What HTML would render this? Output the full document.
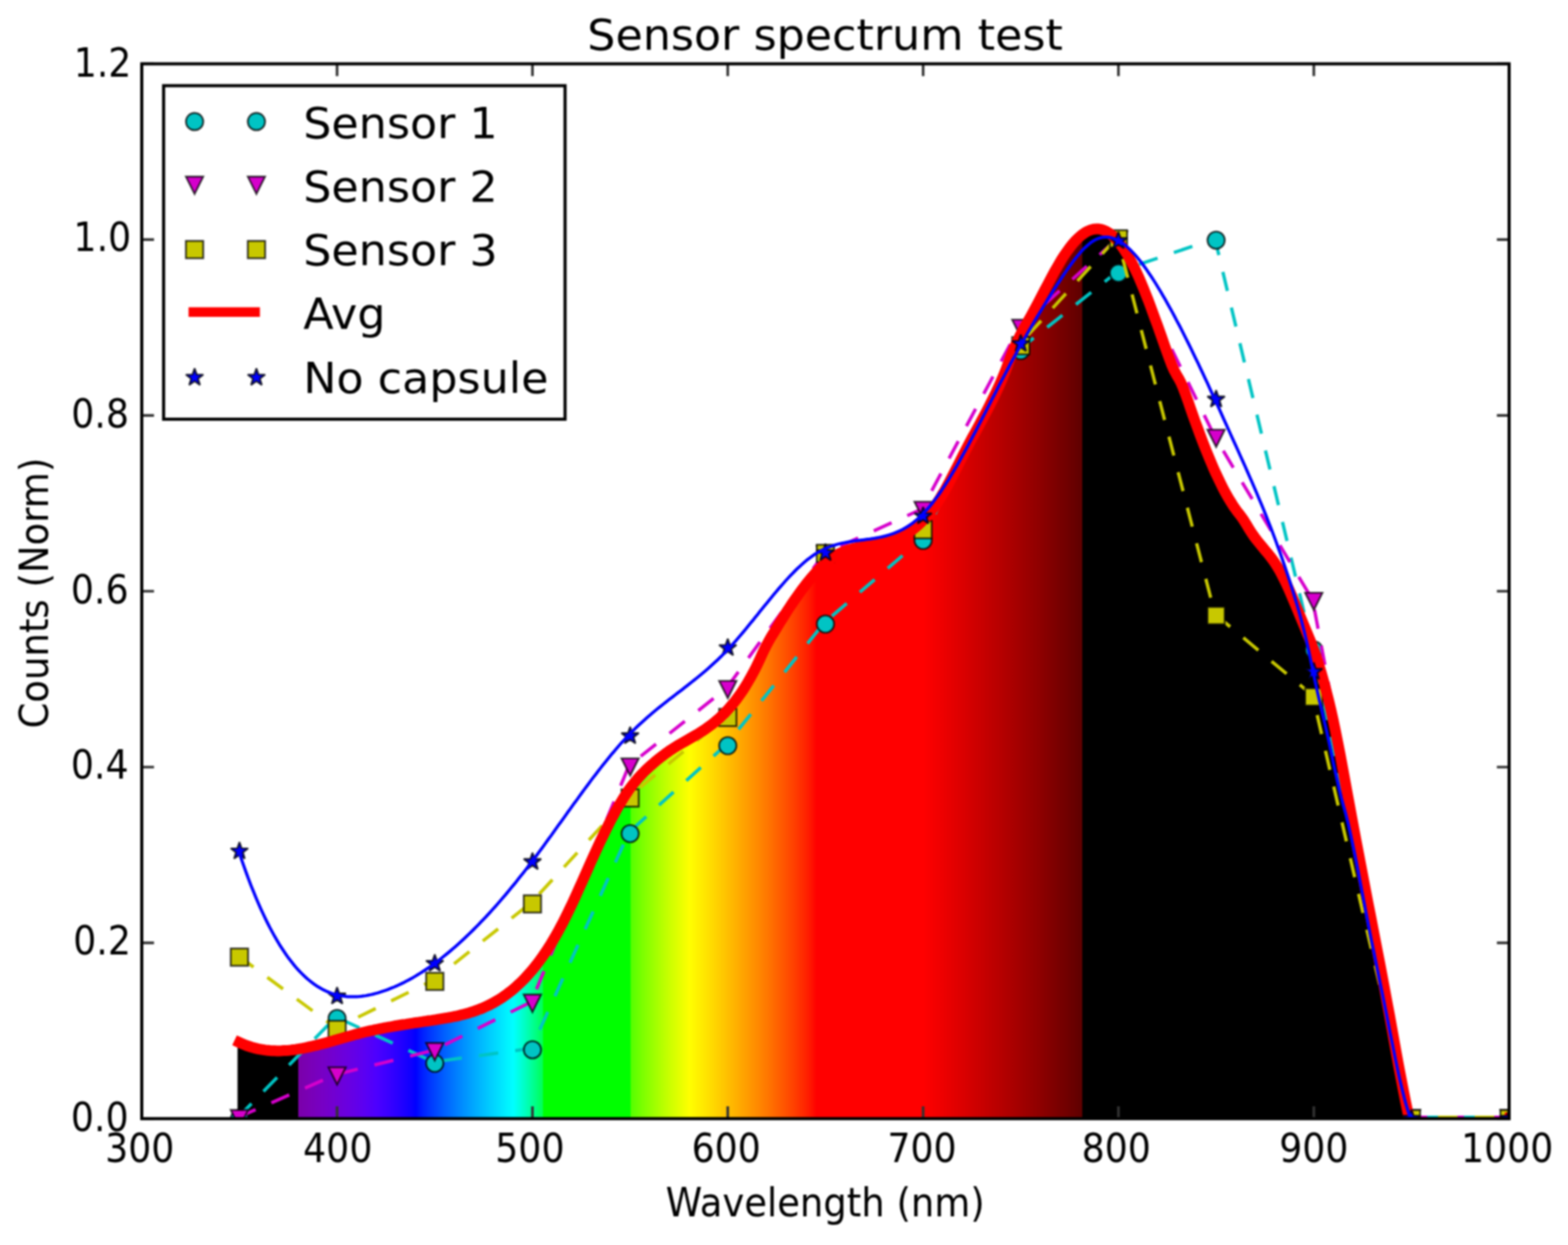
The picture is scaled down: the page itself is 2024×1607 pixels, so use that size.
<!DOCTYPE html>
<html lang="en"><head><meta charset="utf-8"><title>Sensor spectrum test</title>
<style>html,body{margin:0;padding:0;background:#fff}body{width:2024px;height:1607px;overflow:hidden}svg{display:block;filter:blur(0.9px)}text{font-family:"DejaVu Sans","Liberation Sans",sans-serif;fill:#000}</style>
</head><body>
<svg width="2024" height="1607" viewBox="0 0 2024 1607">
<defs>
<clipPath id="ax"><rect x="183.0" y="82.4" width="1765.0" height="1361.5"/></clipPath>
<linearGradient id="spec" gradientUnits="userSpaceOnUse" x1="306.55" y1="0" x2="1826.97" y2="0">
<stop offset="0.00000" stop-color="#000000"/>
<stop offset="0.05189" stop-color="#000000"/>
<stop offset="0.05191" stop-color="#7b00a9"/>
<stop offset="0.05522" stop-color="#7a00ae"/>
<stop offset="0.05854" stop-color="#7a00b2"/>
<stop offset="0.06186" stop-color="#7a00b7"/>
<stop offset="0.06517" stop-color="#7900bb"/>
<stop offset="0.06849" stop-color="#7800c0"/>
<stop offset="0.07181" stop-color="#7700c4"/>
<stop offset="0.07512" stop-color="#7500c8"/>
<stop offset="0.07844" stop-color="#7300cd"/>
<stop offset="0.08176" stop-color="#7200d1"/>
<stop offset="0.08507" stop-color="#6f00d5"/>
<stop offset="0.08839" stop-color="#6d00da"/>
<stop offset="0.09171" stop-color="#6b00de"/>
<stop offset="0.09502" stop-color="#6800e2"/>
<stop offset="0.09834" stop-color="#6500e6"/>
<stop offset="0.10166" stop-color="#6100ea"/>
<stop offset="0.10498" stop-color="#5e00ef"/>
<stop offset="0.10829" stop-color="#5a00f3"/>
<stop offset="0.11161" stop-color="#5600f7"/>
<stop offset="0.11493" stop-color="#5100fb"/>
<stop offset="0.11824" stop-color="#4d00ff"/>
<stop offset="0.12156" stop-color="#4600ff"/>
<stop offset="0.12488" stop-color="#4000ff"/>
<stop offset="0.12819" stop-color="#3a00ff"/>
<stop offset="0.13151" stop-color="#3300ff"/>
<stop offset="0.13483" stop-color="#2c00ff"/>
<stop offset="0.13814" stop-color="#2500ff"/>
<stop offset="0.14146" stop-color="#1d00ff"/>
<stop offset="0.14478" stop-color="#1500ff"/>
<stop offset="0.14809" stop-color="#0c00ff"/>
<stop offset="0.15141" stop-color="#0000ff"/>
<stop offset="0.15473" stop-color="#0013ff"/>
<stop offset="0.15804" stop-color="#0022ff"/>
<stop offset="0.16136" stop-color="#002fff"/>
<stop offset="0.16468" stop-color="#003bff"/>
<stop offset="0.16799" stop-color="#0046ff"/>
<stop offset="0.17131" stop-color="#0051ff"/>
<stop offset="0.17463" stop-color="#005cff"/>
<stop offset="0.17794" stop-color="#0066ff"/>
<stop offset="0.18126" stop-color="#0071ff"/>
<stop offset="0.18458" stop-color="#007bff"/>
<stop offset="0.18789" stop-color="#0084ff"/>
<stop offset="0.19121" stop-color="#008eff"/>
<stop offset="0.19453" stop-color="#0097ff"/>
<stop offset="0.19784" stop-color="#00a0ff"/>
<stop offset="0.20116" stop-color="#00a9ff"/>
<stop offset="0.20448" stop-color="#00b2ff"/>
<stop offset="0.20779" stop-color="#00bbff"/>
<stop offset="0.21111" stop-color="#00c4ff"/>
<stop offset="0.21443" stop-color="#00cdff"/>
<stop offset="0.21774" stop-color="#00d5ff"/>
<stop offset="0.22106" stop-color="#00deff"/>
<stop offset="0.22438" stop-color="#00e6ff"/>
<stop offset="0.22769" stop-color="#00efff"/>
<stop offset="0.23101" stop-color="#00f7ff"/>
<stop offset="0.23433" stop-color="#00ffff"/>
<stop offset="0.23765" stop-color="#00ffea"/>
<stop offset="0.24096" stop-color="#00ffd5"/>
<stop offset="0.24428" stop-color="#00ffc0"/>
<stop offset="0.24760" stop-color="#00ffa9"/>
<stop offset="0.25091" stop-color="#00ff92"/>
<stop offset="0.25423" stop-color="#00ff7b"/>
<stop offset="0.25755" stop-color="#00ff61"/>
<stop offset="0.25919" stop-color="#00ff54"/>
<stop offset="0.25920" stop-color="#00ff00"/>
<stop offset="0.26086" stop-color="#00ff00"/>
<stop offset="0.26418" stop-color="#00ff00"/>
<stop offset="0.26750" stop-color="#00ff00"/>
<stop offset="0.27081" stop-color="#00ff00"/>
<stop offset="0.27413" stop-color="#00ff00"/>
<stop offset="0.27745" stop-color="#00ff00"/>
<stop offset="0.28076" stop-color="#00ff00"/>
<stop offset="0.28408" stop-color="#00ff00"/>
<stop offset="0.28740" stop-color="#00ff00"/>
<stop offset="0.29071" stop-color="#00ff00"/>
<stop offset="0.29403" stop-color="#00ff00"/>
<stop offset="0.29735" stop-color="#00ff00"/>
<stop offset="0.30066" stop-color="#00ff00"/>
<stop offset="0.30398" stop-color="#00ff00"/>
<stop offset="0.30730" stop-color="#00ff00"/>
<stop offset="0.31061" stop-color="#00ff00"/>
<stop offset="0.31393" stop-color="#00ff00"/>
<stop offset="0.31725" stop-color="#00ff00"/>
<stop offset="0.32056" stop-color="#00ff00"/>
<stop offset="0.32388" stop-color="#00ff00"/>
<stop offset="0.32720" stop-color="#00ff00"/>
<stop offset="0.33051" stop-color="#00ff00"/>
<stop offset="0.33381" stop-color="#00ff00"/>
<stop offset="0.33383" stop-color="#54ff00"/>
<stop offset="0.33715" stop-color="#61ff00"/>
<stop offset="0.34046" stop-color="#6eff00"/>
<stop offset="0.34378" stop-color="#7bff00"/>
<stop offset="0.34710" stop-color="#87ff00"/>
<stop offset="0.35041" stop-color="#92ff00"/>
<stop offset="0.35373" stop-color="#9eff00"/>
<stop offset="0.35705" stop-color="#a9ff00"/>
<stop offset="0.36036" stop-color="#b5ff00"/>
<stop offset="0.36368" stop-color="#c0ff00"/>
<stop offset="0.36700" stop-color="#cbff00"/>
<stop offset="0.37032" stop-color="#d5ff00"/>
<stop offset="0.37363" stop-color="#e0ff00"/>
<stop offset="0.37695" stop-color="#eaff00"/>
<stop offset="0.38027" stop-color="#f5ff00"/>
<stop offset="0.38358" stop-color="#ffff00"/>
<stop offset="0.38690" stop-color="#fff900"/>
<stop offset="0.39022" stop-color="#fff200"/>
<stop offset="0.39353" stop-color="#ffec00"/>
<stop offset="0.39685" stop-color="#ffe600"/>
<stop offset="0.40017" stop-color="#ffdf00"/>
<stop offset="0.40348" stop-color="#ffd900"/>
<stop offset="0.40680" stop-color="#ffd200"/>
<stop offset="0.41012" stop-color="#ffcb00"/>
<stop offset="0.41343" stop-color="#ffc500"/>
<stop offset="0.41675" stop-color="#ffbe00"/>
<stop offset="0.42007" stop-color="#ffb700"/>
<stop offset="0.42338" stop-color="#ffb000"/>
<stop offset="0.42670" stop-color="#ffa900"/>
<stop offset="0.43002" stop-color="#ffa200"/>
<stop offset="0.43333" stop-color="#ff9b00"/>
<stop offset="0.43665" stop-color="#ff9400"/>
<stop offset="0.43997" stop-color="#ff8d00"/>
<stop offset="0.44328" stop-color="#ff8600"/>
<stop offset="0.44660" stop-color="#ff7e00"/>
<stop offset="0.44992" stop-color="#ff7700"/>
<stop offset="0.45323" stop-color="#ff6f00"/>
<stop offset="0.45655" stop-color="#ff6700"/>
<stop offset="0.45987" stop-color="#ff5f00"/>
<stop offset="0.46318" stop-color="#ff5700"/>
<stop offset="0.46650" stop-color="#ff4f00"/>
<stop offset="0.46982" stop-color="#ff4600"/>
<stop offset="0.47313" stop-color="#ff3e00"/>
<stop offset="0.47645" stop-color="#ff3400"/>
<stop offset="0.47977" stop-color="#ff2b00"/>
<stop offset="0.48308" stop-color="#ff2100"/>
<stop offset="0.48640" stop-color="#ff1600"/>
<stop offset="0.48972" stop-color="#ff0900"/>
<stop offset="0.49138" stop-color="#ff0000"/>
<stop offset="0.49303" stop-color="#ff0000"/>
<stop offset="0.49635" stop-color="#ff0000"/>
<stop offset="0.49967" stop-color="#ff0000"/>
<stop offset="0.50299" stop-color="#ff0000"/>
<stop offset="0.50630" stop-color="#ff0000"/>
<stop offset="0.50962" stop-color="#ff0000"/>
<stop offset="0.51294" stop-color="#ff0000"/>
<stop offset="0.51625" stop-color="#ff0000"/>
<stop offset="0.51957" stop-color="#ff0000"/>
<stop offset="0.52289" stop-color="#ff0000"/>
<stop offset="0.52620" stop-color="#ff0000"/>
<stop offset="0.52952" stop-color="#ff0000"/>
<stop offset="0.53284" stop-color="#ff0000"/>
<stop offset="0.53615" stop-color="#ff0000"/>
<stop offset="0.53947" stop-color="#ff0000"/>
<stop offset="0.54279" stop-color="#ff0000"/>
<stop offset="0.54610" stop-color="#ff0000"/>
<stop offset="0.54942" stop-color="#ff0000"/>
<stop offset="0.55274" stop-color="#ff0000"/>
<stop offset="0.55605" stop-color="#ff0000"/>
<stop offset="0.55937" stop-color="#ff0000"/>
<stop offset="0.56269" stop-color="#ff0000"/>
<stop offset="0.56600" stop-color="#ff0000"/>
<stop offset="0.56932" stop-color="#ff0000"/>
<stop offset="0.57264" stop-color="#ff0000"/>
<stop offset="0.57595" stop-color="#ff0000"/>
<stop offset="0.57927" stop-color="#ff0000"/>
<stop offset="0.58259" stop-color="#ff0000"/>
<stop offset="0.58590" stop-color="#fb0000"/>
<stop offset="0.58922" stop-color="#f80000"/>
<stop offset="0.59254" stop-color="#f40000"/>
<stop offset="0.59585" stop-color="#f10000"/>
<stop offset="0.59917" stop-color="#ed0000"/>
<stop offset="0.60249" stop-color="#e90000"/>
<stop offset="0.60580" stop-color="#e60000"/>
<stop offset="0.60912" stop-color="#e20000"/>
<stop offset="0.61244" stop-color="#de0000"/>
<stop offset="0.61575" stop-color="#db0000"/>
<stop offset="0.61907" stop-color="#d70000"/>
<stop offset="0.62239" stop-color="#d30000"/>
<stop offset="0.62570" stop-color="#cf0000"/>
<stop offset="0.62902" stop-color="#cc0000"/>
<stop offset="0.63234" stop-color="#c80000"/>
<stop offset="0.63566" stop-color="#c40000"/>
<stop offset="0.63897" stop-color="#c00000"/>
<stop offset="0.64229" stop-color="#bc0000"/>
<stop offset="0.64561" stop-color="#b90000"/>
<stop offset="0.64892" stop-color="#b50000"/>
<stop offset="0.65224" stop-color="#b10000"/>
<stop offset="0.65556" stop-color="#ad0000"/>
<stop offset="0.65887" stop-color="#a90000"/>
<stop offset="0.66219" stop-color="#a50000"/>
<stop offset="0.66551" stop-color="#a10000"/>
<stop offset="0.66882" stop-color="#9d0000"/>
<stop offset="0.67214" stop-color="#990000"/>
<stop offset="0.67546" stop-color="#950000"/>
<stop offset="0.67877" stop-color="#910000"/>
<stop offset="0.68209" stop-color="#8d0000"/>
<stop offset="0.68541" stop-color="#880000"/>
<stop offset="0.68872" stop-color="#840000"/>
<stop offset="0.69204" stop-color="#800000"/>
<stop offset="0.69536" stop-color="#7c0000"/>
<stop offset="0.69867" stop-color="#770000"/>
<stop offset="0.70199" stop-color="#730000"/>
<stop offset="0.70531" stop-color="#6f0000"/>
<stop offset="0.70862" stop-color="#6a0000"/>
<stop offset="0.71194" stop-color="#660000"/>
<stop offset="0.71526" stop-color="#610000"/>
<stop offset="0.71690" stop-color="#5f0000"/>
<stop offset="0.71692" stop-color="#000000"/>
<stop offset="1.00000" stop-color="#000000"/>
</linearGradient>
</defs>
<rect x="0" y="0" width="2024" height="1607" fill="#fff"/>
<g clip-path="url(#ax)">
<path d="M306.6,1448.9 L306.6,1345.7 L309.1,1345.7 L312.1,1347.1 L315.1,1348.3 L318.1,1349.5 L321.2,1350.5 L324.2,1351.5 L327.2,1352.4 L330.2,1353.1 L333.3,1353.8 L336.3,1354.4 L339.3,1354.9 L342.3,1355.4 L345.3,1355.7 L348.4,1356.0 L351.4,1356.2 L354.4,1356.3 L357.4,1356.4 L360.5,1356.4 L363.5,1356.3 L366.5,1356.1 L369.5,1355.9 L372.6,1355.7 L375.6,1355.4 L378.6,1355.0 L381.6,1354.6 L384.7,1354.1 L387.7,1353.6 L390.7,1353.1 L393.7,1352.5 L396.7,1351.9 L399.8,1351.2 L402.8,1350.5 L405.8,1349.8 L408.8,1349.1 L411.9,1348.3 L414.9,1347.5 L417.9,1346.7 L420.9,1345.9 L424.0,1345.1 L427.0,1344.2 L430.0,1343.4 L433.0,1342.5 L436.0,1341.6 L439.1,1340.8 L442.1,1339.9 L445.1,1339.0 L448.1,1338.2 L451.2,1337.3 L454.2,1336.5 L457.2,1335.6 L460.2,1334.8 L463.3,1334.1 L466.3,1333.3 L469.3,1332.5 L472.3,1331.8 L475.3,1331.1 L478.4,1330.4 L481.4,1329.8 L484.4,1329.1 L487.4,1328.5 L490.5,1327.9 L493.5,1327.3 L496.5,1326.7 L499.5,1326.2 L502.6,1325.6 L505.6,1325.1 L508.6,1324.5 L511.6,1324.0 L514.6,1323.5 L517.7,1323.0 L520.7,1322.5 L523.7,1322.1 L526.7,1321.6 L529.8,1321.1 L532.8,1320.7 L535.8,1320.2 L538.8,1319.8 L541.9,1319.3 L544.9,1318.9 L547.9,1318.4 L550.9,1318.0 L553.9,1317.5 L557.0,1317.1 L560.0,1316.6 L563.0,1316.2 L566.0,1315.7 L569.1,1315.2 L572.1,1314.7 L575.1,1314.2 L578.1,1313.7 L581.2,1313.1 L584.2,1312.5 L587.2,1311.9 L590.2,1311.3 L593.3,1310.6 L596.3,1309.8 L599.3,1309.1 L602.3,1308.2 L605.3,1307.4 L608.4,1306.4 L611.4,1305.5 L614.4,1304.4 L617.4,1303.3 L620.5,1302.1 L623.5,1300.9 L626.5,1299.5 L629.5,1298.1 L632.6,1296.6 L635.6,1295.1 L638.6,1293.4 L641.6,1291.7 L644.6,1289.8 L647.7,1287.9 L650.7,1285.8 L653.7,1283.7 L656.7,1281.4 L659.8,1279.1 L662.8,1276.6 L665.8,1274.0 L668.8,1271.2 L671.9,1268.4 L674.9,1265.4 L677.9,1262.3 L680.9,1259.0 L683.9,1255.6 L687.0,1252.1 L690.0,1248.4 L693.0,1244.6 L696.0,1240.6 L699.1,1236.4 L702.1,1232.1 L705.1,1227.7 L708.1,1223.0 L711.2,1218.2 L714.2,1213.2 L717.2,1208.0 L720.2,1202.7 L723.2,1197.1 L726.3,1191.4 L729.3,1185.4 L732.3,1179.3 L735.3,1173.1 L738.4,1166.7 L741.4,1160.2 L744.4,1153.6 L747.4,1146.9 L750.5,1140.1 L753.5,1133.4 L756.5,1126.6 L759.5,1119.8 L762.5,1113.0 L765.6,1106.3 L768.6,1099.7 L771.6,1093.1 L774.6,1086.6 L777.7,1080.3 L780.7,1074.1 L783.7,1068.0 L786.7,1062.0 L789.8,1056.2 L792.8,1050.6 L795.8,1045.2 L798.8,1039.9 L801.9,1034.8 L804.9,1029.9 L807.9,1025.2 L810.9,1020.8 L813.9,1016.5 L817.0,1012.5 L820.0,1008.8 L823.0,1005.2 L826.0,1001.8 L829.1,998.6 L832.1,995.5 L835.1,992.6 L838.1,989.8 L841.2,987.1 L844.2,984.5 L847.2,981.9 L850.2,979.5 L853.2,977.1 L856.3,974.8 L859.3,972.5 L862.3,970.4 L865.3,968.3 L868.4,966.3 L871.4,964.4 L874.4,962.6 L877.4,960.8 L880.5,959.0 L883.5,957.3 L886.5,955.6 L889.5,953.9 L892.5,952.2 L895.6,950.4 L898.6,948.7 L901.6,946.8 L904.6,944.9 L907.7,943.0 L910.7,940.9 L913.7,938.8 L916.7,936.6 L919.8,934.3 L922.8,931.9 L925.8,929.3 L928.8,926.7 L931.8,923.8 L934.9,920.9 L937.9,917.7 L940.9,914.4 L943.9,911.0 L947.0,907.3 L950.0,903.5 L953.0,899.4 L956.0,895.2 L959.1,890.7 L962.1,886.0 L965.1,881.0 L968.1,875.8 L971.1,870.3 L974.2,864.6 L977.2,858.6 L980.2,852.3 L983.2,845.6 L986.3,839.0 L989.3,833.1 L992.3,827.5 L995.3,822.3 L998.4,817.3 L1001.4,812.3 L1004.4,807.3 L1007.4,802.4 L1010.5,797.6 L1013.5,792.8 L1016.5,788.1 L1019.5,783.5 L1022.5,779.0 L1025.6,774.5 L1028.6,770.2 L1031.6,765.9 L1034.6,761.7 L1037.7,757.7 L1040.7,753.8 L1043.7,750.0 L1046.7,746.3 L1049.8,742.8 L1052.8,739.4 L1055.8,736.2 L1058.8,733.1 L1061.8,730.2 L1064.9,727.4 L1067.9,724.9 L1070.9,722.5 L1073.9,720.2 L1077.0,718.2 L1080.0,716.4 L1083.0,714.7 L1086.0,713.3 L1089.1,712.0 L1092.1,710.8 L1095.1,709.8 L1098.1,708.9 L1101.1,708.1 L1104.2,707.3 L1107.2,706.7 L1110.2,706.1 L1113.2,705.5 L1116.3,705.0 L1119.3,704.4 L1122.3,703.9 L1125.3,703.4 L1128.4,702.9 L1131.4,702.3 L1134.4,701.7 L1137.4,701.1 L1140.4,700.4 L1143.5,699.7 L1146.5,698.9 L1149.5,697.9 L1152.5,696.9 L1155.6,695.8 L1158.6,694.6 L1161.6,693.3 L1164.6,691.8 L1167.7,690.2 L1170.7,688.5 L1173.7,686.6 L1176.7,684.5 L1179.7,682.3 L1182.8,679.8 L1185.8,677.2 L1188.8,674.4 L1191.8,671.4 L1194.9,668.2 L1197.9,664.8 L1200.9,661.1 L1203.9,657.2 L1207.0,653.0 L1210.0,648.6 L1213.0,643.9 L1216.0,639.0 L1219.1,633.8 L1222.1,628.4 L1225.1,622.8 L1228.1,617.1 L1231.1,611.2 L1234.2,605.3 L1237.2,599.4 L1240.2,593.4 L1243.2,587.4 L1246.3,581.5 L1249.3,575.7 L1252.3,570.0 L1255.3,564.4 L1258.4,558.8 L1261.4,553.3 L1264.4,547.7 L1267.4,542.1 L1270.4,536.5 L1273.5,530.8 L1276.5,525.0 L1279.5,519.0 L1282.5,513.0 L1285.6,506.7 L1288.6,500.3 L1291.6,493.6 L1294.6,486.5 L1297.7,479.0 L1300.7,471.0 L1303.7,462.9 L1306.7,455.1 L1309.7,447.9 L1312.8,441.2 L1315.8,435.0 L1318.8,429.2 L1321.8,423.6 L1324.9,418.2 L1327.9,412.9 L1330.9,407.6 L1333.9,402.1 L1337.0,396.5 L1340.0,390.8 L1343.0,385.1 L1346.0,379.3 L1349.0,373.5 L1352.1,367.7 L1355.1,362.0 L1358.1,356.4 L1361.1,350.8 L1364.2,345.4 L1367.2,340.2 L1370.2,335.2 L1373.2,330.4 L1376.3,325.9 L1379.3,321.7 L1382.3,317.7 L1385.3,314.1 L1388.3,310.7 L1391.4,307.6 L1394.4,304.9 L1397.4,302.5 L1400.4,300.4 L1403.5,298.7 L1406.5,297.4 L1409.5,296.3 L1412.5,295.7 L1415.6,295.5 L1418.6,295.6 L1421.6,296.1 L1424.6,297.1 L1427.7,298.4 L1430.7,300.2 L1433.7,302.3 L1436.7,304.9 L1439.7,307.8 L1442.8,311.1 L1445.8,314.8 L1448.8,318.9 L1451.8,323.4 L1454.9,328.3 L1457.9,333.5 L1460.9,339.0 L1463.9,345.0 L1467.0,351.3 L1470.0,357.9 L1473.0,364.9 L1476.0,372.1 L1479.0,379.7 L1482.1,387.4 L1485.1,395.4 L1488.1,403.6 L1491.1,411.8 L1494.2,420.2 L1497.2,428.7 L1500.2,437.2 L1503.2,445.8 L1506.3,454.3 L1509.3,462.7 L1512.3,470.6 L1515.3,477.4 L1518.3,483.1 L1521.4,488.3 L1524.4,494.0 L1527.4,501.0 L1530.4,509.1 L1533.5,517.7 L1536.5,526.5 L1539.5,535.1 L1542.5,543.5 L1545.6,551.8 L1548.6,560.0 L1551.6,567.9 L1554.6,575.7 L1557.6,583.3 L1560.7,590.7 L1563.7,597.9 L1566.7,604.9 L1569.7,611.6 L1572.8,618.1 L1575.8,624.3 L1578.8,630.3 L1581.8,636.0 L1584.9,641.4 L1587.9,646.5 L1590.9,651.3 L1593.9,655.8 L1596.9,660.0 L1600.0,663.9 L1603.0,667.9 L1606.0,672.3 L1609.0,677.2 L1612.1,682.3 L1615.1,687.1 L1618.1,691.5 L1621.1,695.6 L1624.2,699.5 L1627.2,703.2 L1630.2,706.8 L1633.2,710.4 L1636.3,714.1 L1639.3,717.8 L1642.3,721.8 L1645.3,726.1 L1648.3,730.8 L1651.4,735.8 L1654.4,741.4 L1657.4,747.3 L1660.4,753.6 L1663.5,760.2 L1666.5,767.1 L1669.5,774.2 L1672.5,781.4 L1675.6,788.7 L1678.6,796.1 L1681.6,803.4 L1684.6,810.7 L1687.6,818.0 L1690.7,825.4 L1693.7,833.1 L1696.7,841.2 L1699.7,850.0 L1702.8,859.5 L1705.8,869.5 L1708.8,880.2 L1711.8,891.5 L1714.9,903.5 L1717.9,916.2 L1720.9,929.6 L1723.9,943.9 L1726.9,958.9 L1730.0,974.6 L1733.0,990.7 L1736.0,1007.1 L1739.0,1023.6 L1742.1,1040.1 L1745.1,1056.4 L1748.1,1072.6 L1751.1,1088.6 L1754.2,1104.6 L1757.2,1120.4 L1760.2,1136.1 L1763.2,1151.8 L1766.2,1167.4 L1769.3,1182.9 L1772.3,1198.5 L1775.3,1214.0 L1778.3,1229.6 L1781.4,1245.3 L1784.4,1261.2 L1787.4,1277.2 L1790.4,1293.4 L1793.5,1309.9 L1796.5,1326.5 L1799.5,1343.2 L1802.5,1359.9 L1805.5,1376.3 L1808.6,1392.4 L1811.6,1408.0 L1814.6,1423.1 L1817.6,1437.4 L1827.0,1484.5 L1827.0,1448.9 Z" fill="url(#spec)"/>
<g fill="none" stroke="#00c4c4" stroke-width="4.3" stroke-dasharray="25.2,22.2">
<path d="M307.6,1442.1 L433.6,1312.7" stroke-dashoffset="0.8"/>
<path d="M433.6,1312.7 L559.7,1370.7" stroke-dashoffset="39.2"/>
<path d="M559.7,1370.7 L685.8,1353.2" stroke-dashoffset="35.8"/>
<path d="M685.8,1353.2 L811.9,1074.2" stroke-dashoffset="20.9"/>
<path d="M811.9,1074.2 L937.9,960.7" stroke-dashoffset="42.6"/>
<path d="M937.9,960.7 L1064.0,803.7" stroke-dashoffset="22.7"/>
<path d="M1064.0,803.7 L1190.1,695.7" stroke-dashoffset="34.4"/>
<path d="M1190.1,695.7 L1316.1,450.7" stroke-dashoffset="10.8"/>
<path d="M1316.1,450.7 L1442.2,350.7" stroke-dashoffset="2.0"/>
<path d="M1442.2,350.7 L1568.3,308.2" stroke-dashoffset="17.7"/>
<path d="M1568.3,308.2 L1694.4,837.0" stroke-dashoffset="3.5"/>
<path d="M1694.4,837.0 L1820.4,1442.1" stroke-dashoffset="25.7"/>
<path d="M1820.4,1442.1 L1946.5,1442.1" stroke-dashoffset="27.6"/>
</g>
<circle cx="309.1" cy="1443.9" r="11.15" fill="#00c4c4" stroke="rgba(0,0,0,0.75)" stroke-width="2.4"/>
<circle cx="435.1" cy="1314.5" r="11.15" fill="#00c4c4" stroke="rgba(0,0,0,0.75)" stroke-width="2.4"/>
<circle cx="561.2" cy="1372.5" r="11.15" fill="#00c4c4" stroke="rgba(0,0,0,0.75)" stroke-width="2.4"/>
<circle cx="687.3" cy="1355.0" r="11.15" fill="#00c4c4" stroke="rgba(0,0,0,0.75)" stroke-width="2.4"/>
<circle cx="813.4" cy="1076.0" r="11.15" fill="#00c4c4" stroke="rgba(0,0,0,0.75)" stroke-width="2.4"/>
<circle cx="939.4" cy="962.5" r="11.15" fill="#00c4c4" stroke="rgba(0,0,0,0.75)" stroke-width="2.4"/>
<circle cx="1065.5" cy="805.5" r="11.15" fill="#00c4c4" stroke="rgba(0,0,0,0.75)" stroke-width="2.4"/>
<circle cx="1191.6" cy="697.5" r="11.15" fill="#00c4c4" stroke="rgba(0,0,0,0.75)" stroke-width="2.4"/>
<circle cx="1317.6" cy="452.5" r="11.15" fill="#00c4c4" stroke="rgba(0,0,0,0.75)" stroke-width="2.4"/>
<circle cx="1443.7" cy="352.5" r="11.15" fill="#00c4c4" stroke="rgba(0,0,0,0.75)" stroke-width="2.4"/>
<circle cx="1569.8" cy="310.0" r="11.15" fill="#00c4c4" stroke="rgba(0,0,0,0.75)" stroke-width="2.4"/>
<circle cx="1695.9" cy="838.8" r="11.15" fill="#00c4c4" stroke="rgba(0,0,0,0.75)" stroke-width="2.4"/>
<circle cx="1821.9" cy="1443.9" r="11.15" fill="#00c4c4" stroke="rgba(0,0,0,0.75)" stroke-width="2.4"/>
<circle cx="1948.0" cy="1443.9" r="11.15" fill="#00c4c4" stroke="rgba(0,0,0,0.75)" stroke-width="2.4"/>
<g fill="none" stroke="#d600cc" stroke-width="4.3" stroke-dasharray="25.2,22.2">
<path d="M307.6,1442.1 L433.6,1387.0" stroke-dashoffset="0.8"/>
<path d="M433.6,1387.0 L559.7,1355.7" stroke-dashoffset="43.6"/>
<path d="M559.7,1355.7 L685.8,1293.2" stroke-dashoffset="31.2"/>
<path d="M685.8,1293.2 L811.9,988.2" stroke-dashoffset="29.8"/>
<path d="M811.9,988.2 L937.9,888.2" stroke-dashoffset="28.0"/>
<path d="M937.9,888.2 L1064.0,714.2" stroke-dashoffset="46.7"/>
<path d="M1064.0,714.2 L1190.1,657.0" stroke-dashoffset="24.6"/>
<path d="M1190.1,657.0 L1316.1,421.9" stroke-dashoffset="20.8"/>
<path d="M1316.1,421.9 L1442.2,308.2" stroke-dashoffset="3.1"/>
<path d="M1442.2,308.2 L1568.3,564.0" stroke-dashoffset="30.7"/>
<path d="M1568.3,564.0 L1694.4,774.5" stroke-dashoffset="26.5"/>
<path d="M1694.4,774.5 L1820.4,1442.1" stroke-dashoffset="34.8"/>
<path d="M1820.4,1442.1 L1946.5,1442.1" stroke-dashoffset="3.3"/>
</g>
<path d="M309.1,1455.1 L320.2,1432.8 L297.9,1432.8 Z" fill="#d600cc" stroke="rgba(0,0,0,0.75)" stroke-width="2.4" stroke-linejoin="miter"/>
<path d="M435.1,1399.9 L446.3,1377.6 L424.0,1377.6 Z" fill="#d600cc" stroke="rgba(0,0,0,0.75)" stroke-width="2.4" stroke-linejoin="miter"/>
<path d="M561.2,1368.7 L572.4,1346.3 L550.1,1346.3 Z" fill="#d600cc" stroke="rgba(0,0,0,0.75)" stroke-width="2.4" stroke-linejoin="miter"/>
<path d="M687.3,1306.2 L698.4,1283.8 L676.1,1283.8 Z" fill="#d600cc" stroke="rgba(0,0,0,0.75)" stroke-width="2.4" stroke-linejoin="miter"/>
<path d="M813.4,1001.1 L824.5,978.9 L802.2,978.9 Z" fill="#d600cc" stroke="rgba(0,0,0,0.75)" stroke-width="2.4" stroke-linejoin="miter"/>
<path d="M939.4,901.1 L950.6,878.9 L928.3,878.9 Z" fill="#d600cc" stroke="rgba(0,0,0,0.75)" stroke-width="2.4" stroke-linejoin="miter"/>
<path d="M1065.5,727.1 L1076.7,704.9 L1054.3,704.9 Z" fill="#d600cc" stroke="rgba(0,0,0,0.75)" stroke-width="2.4" stroke-linejoin="miter"/>
<path d="M1191.6,669.9 L1202.7,647.6 L1180.4,647.6 Z" fill="#d600cc" stroke="rgba(0,0,0,0.75)" stroke-width="2.4" stroke-linejoin="miter"/>
<path d="M1317.6,434.9 L1328.8,412.6 L1306.5,412.6 Z" fill="#d600cc" stroke="rgba(0,0,0,0.75)" stroke-width="2.4" stroke-linejoin="miter"/>
<path d="M1443.7,321.1 L1454.9,298.9 L1432.6,298.9 Z" fill="#d600cc" stroke="rgba(0,0,0,0.75)" stroke-width="2.4" stroke-linejoin="miter"/>
<path d="M1569.8,576.9 L1580.9,554.6 L1558.6,554.6 Z" fill="#d600cc" stroke="rgba(0,0,0,0.75)" stroke-width="2.4" stroke-linejoin="miter"/>
<path d="M1695.9,787.4 L1707.0,765.1 L1684.7,765.1 Z" fill="#d600cc" stroke="rgba(0,0,0,0.75)" stroke-width="2.4" stroke-linejoin="miter"/>
<path d="M1821.9,1455.1 L1833.1,1432.8 L1810.8,1432.8 Z" fill="#d600cc" stroke="rgba(0,0,0,0.75)" stroke-width="2.4" stroke-linejoin="miter"/>
<path d="M1948.0,1455.1 L1959.2,1432.8 L1936.8,1432.8 Z" fill="#d600cc" stroke="rgba(0,0,0,0.75)" stroke-width="2.4" stroke-linejoin="miter"/>
<g fill="none" stroke="#c8c800" stroke-width="4.3" stroke-dasharray="25.2,22.2">
<path d="M307.6,1233.7 L433.6,1327.0" stroke-dashoffset="0.8"/>
<path d="M433.6,1327.0 L559.7,1265.0" stroke-dashoffset="15.4"/>
<path d="M559.7,1265.0 L685.8,1165.0" stroke-dashoffset="13.7"/>
<path d="M685.8,1165.0 L811.9,1028.2" stroke-dashoffset="32.4"/>
<path d="M811.9,1028.2 L937.9,924.2" stroke-dashoffset="28.8"/>
<path d="M937.9,924.2 L1064.0,712.5" stroke-dashoffset="2.6"/>
<path d="M1064.0,712.5 L1190.1,682.0" stroke-dashoffset="12.0"/>
<path d="M1190.1,682.0 L1316.1,444.4" stroke-dashoffset="46.9"/>
<path d="M1316.1,444.4 L1442.2,306.4" stroke-dashoffset="31.4"/>
<path d="M1442.2,306.4 L1568.3,792.7" stroke-dashoffset="18.7"/>
<path d="M1568.3,792.7 L1694.4,897.7" stroke-dashoffset="47.1"/>
<path d="M1694.4,897.7 L1820.4,1442.1" stroke-dashoffset="21.5"/>
<path d="M1820.4,1442.1 L1946.5,1442.1" stroke-dashoffset="11.6"/>
</g>
<rect x="297.9" y="1224.3" width="22.3" height="22.3" fill="#c8c800" stroke="rgba(0,0,0,0.75)" stroke-width="2.4"/>
<rect x="424.0" y="1317.6" width="22.3" height="22.3" fill="#c8c800" stroke="rgba(0,0,0,0.75)" stroke-width="2.4"/>
<rect x="550.1" y="1255.6" width="22.3" height="22.3" fill="#c8c800" stroke="rgba(0,0,0,0.75)" stroke-width="2.4"/>
<rect x="676.1" y="1155.6" width="22.3" height="22.3" fill="#c8c800" stroke="rgba(0,0,0,0.75)" stroke-width="2.4"/>
<rect x="802.2" y="1018.9" width="22.3" height="22.3" fill="#c8c800" stroke="rgba(0,0,0,0.75)" stroke-width="2.4"/>
<rect x="928.3" y="914.9" width="22.3" height="22.3" fill="#c8c800" stroke="rgba(0,0,0,0.75)" stroke-width="2.4"/>
<rect x="1054.3" y="703.1" width="22.3" height="22.3" fill="#c8c800" stroke="rgba(0,0,0,0.75)" stroke-width="2.4"/>
<rect x="1180.4" y="672.6" width="22.3" height="22.3" fill="#c8c800" stroke="rgba(0,0,0,0.75)" stroke-width="2.4"/>
<rect x="1306.5" y="435.1" width="22.3" height="22.3" fill="#c8c800" stroke="rgba(0,0,0,0.75)" stroke-width="2.4"/>
<rect x="1432.6" y="297.1" width="22.3" height="22.3" fill="#c8c800" stroke="rgba(0,0,0,0.75)" stroke-width="2.4"/>
<rect x="1558.6" y="783.4" width="22.3" height="22.3" fill="#c8c800" stroke="rgba(0,0,0,0.75)" stroke-width="2.4"/>
<rect x="1684.7" y="888.4" width="22.3" height="22.3" fill="#c8c800" stroke="rgba(0,0,0,0.75)" stroke-width="2.4"/>
<rect x="1810.8" y="1432.8" width="22.3" height="22.3" fill="#c8c800" stroke="rgba(0,0,0,0.75)" stroke-width="2.4"/>
<rect x="1936.8" y="1432.8" width="22.3" height="22.3" fill="#c8c800" stroke="rgba(0,0,0,0.75)" stroke-width="2.4"/>
<path d="M309.1,1345.7 L312.1,1347.1 L315.1,1348.3 L318.1,1349.5 L321.2,1350.5 L324.2,1351.5 L327.2,1352.4 L330.2,1353.1 L333.3,1353.8 L336.3,1354.4 L339.3,1354.9 L342.3,1355.4 L345.3,1355.7 L348.4,1356.0 L351.4,1356.2 L354.4,1356.3 L357.4,1356.4 L360.5,1356.4 L363.5,1356.3 L366.5,1356.1 L369.5,1355.9 L372.6,1355.7 L375.6,1355.4 L378.6,1355.0 L381.6,1354.6 L384.7,1354.1 L387.7,1353.6 L390.7,1353.1 L393.7,1352.5 L396.7,1351.9 L399.8,1351.2 L402.8,1350.5 L405.8,1349.8 L408.8,1349.1 L411.9,1348.3 L414.9,1347.5 L417.9,1346.7 L420.9,1345.9 L424.0,1345.1 L427.0,1344.2 L430.0,1343.4 L433.0,1342.5 L436.0,1341.6 L439.1,1340.8 L442.1,1339.9 L445.1,1339.0 L448.1,1338.2 L451.2,1337.3 L454.2,1336.5 L457.2,1335.6 L460.2,1334.8 L463.3,1334.1 L466.3,1333.3 L469.3,1332.5 L472.3,1331.8 L475.3,1331.1 L478.4,1330.4 L481.4,1329.8 L484.4,1329.1 L487.4,1328.5 L490.5,1327.9 L493.5,1327.3 L496.5,1326.7 L499.5,1326.2 L502.6,1325.6 L505.6,1325.1 L508.6,1324.5 L511.6,1324.0 L514.6,1323.5 L517.7,1323.0 L520.7,1322.5 L523.7,1322.1 L526.7,1321.6 L529.8,1321.1 L532.8,1320.7 L535.8,1320.2 L538.8,1319.8 L541.9,1319.3 L544.9,1318.9 L547.9,1318.4 L550.9,1318.0 L553.9,1317.5 L557.0,1317.1 L560.0,1316.6 L563.0,1316.2 L566.0,1315.7 L569.1,1315.2 L572.1,1314.7 L575.1,1314.2 L578.1,1313.7 L581.2,1313.1 L584.2,1312.5 L587.2,1311.9 L590.2,1311.3 L593.3,1310.6 L596.3,1309.8 L599.3,1309.1 L602.3,1308.2 L605.3,1307.4 L608.4,1306.4 L611.4,1305.5 L614.4,1304.4 L617.4,1303.3 L620.5,1302.1 L623.5,1300.9 L626.5,1299.5 L629.5,1298.1 L632.6,1296.6 L635.6,1295.1 L638.6,1293.4 L641.6,1291.7 L644.6,1289.8 L647.7,1287.9 L650.7,1285.8 L653.7,1283.7 L656.7,1281.4 L659.8,1279.1 L662.8,1276.6 L665.8,1274.0 L668.8,1271.2 L671.9,1268.4 L674.9,1265.4 L677.9,1262.3 L680.9,1259.0 L683.9,1255.6 L687.0,1252.1 L690.0,1248.4 L693.0,1244.6 L696.0,1240.6 L699.1,1236.4 L702.1,1232.1 L705.1,1227.7 L708.1,1223.0 L711.2,1218.2 L714.2,1213.2 L717.2,1208.0 L720.2,1202.7 L723.2,1197.1 L726.3,1191.4 L729.3,1185.4 L732.3,1179.3 L735.3,1173.1 L738.4,1166.7 L741.4,1160.2 L744.4,1153.6 L747.4,1146.9 L750.5,1140.1 L753.5,1133.4 L756.5,1126.6 L759.5,1119.8 L762.5,1113.0 L765.6,1106.3 L768.6,1099.7 L771.6,1093.1 L774.6,1086.6 L777.7,1080.3 L780.7,1074.1 L783.7,1068.0 L786.7,1062.0 L789.8,1056.2 L792.8,1050.6 L795.8,1045.2 L798.8,1039.9 L801.9,1034.8 L804.9,1029.9 L807.9,1025.2 L810.9,1020.8 L813.9,1016.5 L817.0,1012.5 L820.0,1008.8 L823.0,1005.2 L826.0,1001.8 L829.1,998.6 L832.1,995.5 L835.1,992.6 L838.1,989.8 L841.2,987.1 L844.2,984.5 L847.2,981.9 L850.2,979.5 L853.2,977.1 L856.3,974.8 L859.3,972.5 L862.3,970.4 L865.3,968.3 L868.4,966.3 L871.4,964.4 L874.4,962.6 L877.4,960.8 L880.5,959.0 L883.5,957.3 L886.5,955.6 L889.5,953.9 L892.5,952.2 L895.6,950.4 L898.6,948.7 L901.6,946.8 L904.6,944.9 L907.7,943.0 L910.7,940.9 L913.7,938.8 L916.7,936.6 L919.8,934.3 L922.8,931.9 L925.8,929.3 L928.8,926.7 L931.8,923.8 L934.9,920.9 L937.9,917.7 L940.9,914.4 L943.9,911.0 L947.0,907.3 L950.0,903.5 L953.0,899.4 L956.0,895.2 L959.1,890.7 L962.1,886.0 L965.1,881.0 L968.1,875.8 L971.1,870.3 L974.2,864.6 L977.2,858.6 L980.2,852.3 L983.2,845.6 L986.3,839.0 L989.3,833.1 L992.3,827.5 L995.3,822.3 L998.4,817.3 L1001.4,812.3 L1004.4,807.3 L1007.4,802.4 L1010.5,797.6 L1013.5,792.8 L1016.5,788.1 L1019.5,783.5 L1022.5,779.0 L1025.6,774.5 L1028.6,770.2 L1031.6,765.9 L1034.6,761.7 L1037.7,757.7 L1040.7,753.8 L1043.7,750.0 L1046.7,746.3 L1049.8,742.8 L1052.8,739.4 L1055.8,736.2 L1058.8,733.1 L1061.8,730.2 L1064.9,727.4 L1067.9,724.9 L1070.9,722.5 L1073.9,720.2 L1077.0,718.2 L1080.0,716.4 L1083.0,714.7 L1086.0,713.3 L1089.1,712.0 L1092.1,710.8 L1095.1,709.8 L1098.1,708.9 L1101.1,708.1 L1104.2,707.3 L1107.2,706.7 L1110.2,706.1 L1113.2,705.5 L1116.3,705.0 L1119.3,704.4 L1122.3,703.9 L1125.3,703.4 L1128.4,702.9 L1131.4,702.3 L1134.4,701.7 L1137.4,701.1 L1140.4,700.4 L1143.5,699.7 L1146.5,698.9 L1149.5,697.9 L1152.5,696.9 L1155.6,695.8 L1158.6,694.6 L1161.6,693.3 L1164.6,691.8 L1167.7,690.2 L1170.7,688.5 L1173.7,686.6 L1176.7,684.5 L1179.7,682.3 L1182.8,679.8 L1185.8,677.2 L1188.8,674.4 L1191.8,671.4 L1194.9,668.2 L1197.9,664.8 L1200.9,661.1 L1203.9,657.2 L1207.0,653.0 L1210.0,648.6 L1213.0,643.9 L1216.0,639.0 L1219.1,633.8 L1222.1,628.4 L1225.1,622.8 L1228.1,617.1 L1231.1,611.2 L1234.2,605.3 L1237.2,599.4 L1240.2,593.4 L1243.2,587.4 L1246.3,581.5 L1249.3,575.7 L1252.3,570.0 L1255.3,564.4 L1258.4,558.8 L1261.4,553.3 L1264.4,547.7 L1267.4,542.1 L1270.4,536.5 L1273.5,530.8 L1276.5,525.0 L1279.5,519.0 L1282.5,513.0 L1285.6,506.7 L1288.6,500.3 L1291.6,493.6 L1294.6,486.5 L1297.7,479.0 L1300.7,471.0 L1303.7,462.9 L1306.7,455.1 L1309.7,447.9 L1312.8,441.2 L1315.8,435.0 L1318.8,429.2 L1321.8,423.6 L1324.9,418.2 L1327.9,412.9 L1330.9,407.6 L1333.9,402.1 L1337.0,396.5 L1340.0,390.8 L1343.0,385.1 L1346.0,379.3 L1349.0,373.5 L1352.1,367.7 L1355.1,362.0 L1358.1,356.4 L1361.1,350.8 L1364.2,345.4 L1367.2,340.2 L1370.2,335.2 L1373.2,330.4 L1376.3,325.9 L1379.3,321.7 L1382.3,317.7 L1385.3,314.1 L1388.3,310.7 L1391.4,307.6 L1394.4,304.9 L1397.4,302.5 L1400.4,300.4 L1403.5,298.7 L1406.5,297.4 L1409.5,296.3 L1412.5,295.7 L1415.6,295.5 L1418.6,295.6 L1421.6,296.1 L1424.6,297.1 L1427.7,298.4 L1430.7,300.2 L1433.7,302.3 L1436.7,304.9 L1439.7,307.8 L1442.8,311.1 L1445.8,314.8 L1448.8,318.9 L1451.8,323.4 L1454.9,328.3 L1457.9,333.5 L1460.9,339.0 L1463.9,345.0 L1467.0,351.3 L1470.0,357.9 L1473.0,364.9 L1476.0,372.1 L1479.0,379.7 L1482.1,387.4 L1485.1,395.4 L1488.1,403.6 L1491.1,411.8 L1494.2,420.2 L1497.2,428.7 L1500.2,437.2 L1503.2,445.8 L1506.3,454.3 L1509.3,462.7 L1512.3,470.6 L1515.3,477.4 L1518.3,483.1 L1521.4,488.3 L1524.4,494.0 L1527.4,501.0 L1530.4,509.1 L1533.5,517.7 L1536.5,526.5 L1539.5,535.1 L1542.5,543.5 L1545.6,551.8 L1548.6,560.0 L1551.6,567.9 L1554.6,575.7 L1557.6,583.3 L1560.7,590.7 L1563.7,597.9 L1566.7,604.9 L1569.7,611.6 L1572.8,618.1 L1575.8,624.3 L1578.8,630.3 L1581.8,636.0 L1584.9,641.4 L1587.9,646.5 L1590.9,651.3 L1593.9,655.8 L1596.9,660.0 L1600.0,663.9 L1603.0,667.9 L1606.0,672.3 L1609.0,677.2 L1612.1,682.3 L1615.1,687.1 L1618.1,691.5 L1621.1,695.6 L1624.2,699.5 L1627.2,703.2 L1630.2,706.8 L1633.2,710.4 L1636.3,714.1 L1639.3,717.8 L1642.3,721.8 L1645.3,726.1 L1648.3,730.8 L1651.4,735.8 L1654.4,741.4 L1657.4,747.3 L1660.4,753.6 L1663.5,760.2 L1666.5,767.1 L1669.5,774.2 L1672.5,781.4 L1675.6,788.7 L1678.6,796.1 L1681.6,803.4 L1684.6,810.7 L1687.6,818.0 L1690.7,825.4 L1693.7,833.1 L1696.7,841.2 L1699.7,850.0 L1702.8,859.5 L1705.8,869.5 L1708.8,880.2 L1711.8,891.5 L1714.9,903.5 L1717.9,916.2 L1720.9,929.6 L1723.9,943.9 L1726.9,958.9 L1730.0,974.6 L1733.0,990.7 L1736.0,1007.1 L1739.0,1023.6 L1742.1,1040.1 L1745.1,1056.4 L1748.1,1072.6 L1751.1,1088.6 L1754.2,1104.6 L1757.2,1120.4 L1760.2,1136.1 L1763.2,1151.8 L1766.2,1167.4 L1769.3,1182.9 L1772.3,1198.5 L1775.3,1214.0 L1778.3,1229.6 L1781.4,1245.3 L1784.4,1261.2 L1787.4,1277.2 L1790.4,1293.4 L1793.5,1309.9 L1796.5,1326.5 L1799.5,1343.2 L1802.5,1359.9 L1805.5,1376.3 L1808.6,1392.4 L1811.6,1408.0 L1814.6,1423.1 L1817.6,1437.4 L1827.0,1484.5" fill="none" stroke="#ff0000" stroke-width="14" stroke-linecap="square" stroke-linejoin="round"/>
<path d="M1944.0,1459.9 L1948.0,1443.9" fill="none" stroke="#ff0000" stroke-width="14" stroke-linecap="square"/>
<path d="M309.1,1086.9 L311.9,1094.9 L320.3,1095.1 L313.6,1100.2 L316.0,1108.3 L309.1,1103.5 L302.1,1108.3 L304.6,1100.2 L297.8,1095.1 L306.3,1094.9 Z" fill="#0000ff" stroke="rgba(0,0,0,0.75)" stroke-width="2.4" stroke-linejoin="bevel"/>
<path d="M435.1,1274.2 L437.9,1282.2 L446.4,1282.3 L439.7,1287.5 L442.1,1295.6 L435.1,1290.7 L428.2,1295.6 L430.6,1287.5 L423.9,1282.3 L432.4,1282.2 Z" fill="#0000ff" stroke="rgba(0,0,0,0.75)" stroke-width="2.4" stroke-linejoin="bevel"/>
<path d="M561.2,1231.9 L564.0,1239.9 L572.5,1240.1 L565.7,1245.2 L568.2,1253.3 L561.2,1248.5 L554.2,1253.3 L556.7,1245.2 L549.9,1240.1 L558.4,1239.9 Z" fill="#0000ff" stroke="rgba(0,0,0,0.75)" stroke-width="2.4" stroke-linejoin="bevel"/>
<path d="M687.3,1100.7 L690.1,1108.7 L698.6,1108.8 L691.8,1114.0 L694.3,1122.1 L687.3,1117.2 L680.3,1122.1 L682.8,1114.0 L676.0,1108.8 L684.5,1108.7 Z" fill="#0000ff" stroke="rgba(0,0,0,0.75)" stroke-width="2.4" stroke-linejoin="bevel"/>
<path d="M813.4,938.1 L816.1,946.2 L824.6,946.3 L817.9,951.5 L820.3,959.6 L813.4,954.7 L806.4,959.6 L808.8,951.5 L802.1,946.3 L810.6,946.2 Z" fill="#0000ff" stroke="rgba(0,0,0,0.75)" stroke-width="2.4" stroke-linejoin="bevel"/>
<path d="M939.4,824.4 L942.2,832.4 L950.7,832.6 L943.9,837.7 L946.4,845.8 L939.4,841.0 L932.5,845.8 L934.9,837.7 L928.2,832.6 L936.6,832.4 Z" fill="#0000ff" stroke="rgba(0,0,0,0.75)" stroke-width="2.4" stroke-linejoin="bevel"/>
<path d="M1065.5,701.9 L1068.3,709.9 L1076.8,710.1 L1070.0,715.2 L1072.5,723.3 L1065.5,718.5 L1058.5,723.3 L1061.0,715.2 L1054.2,710.1 L1062.7,709.9 Z" fill="#0000ff" stroke="rgba(0,0,0,0.75)" stroke-width="2.4" stroke-linejoin="bevel"/>
<path d="M1191.6,654.4 L1194.4,662.4 L1202.8,662.6 L1196.1,667.7 L1198.5,675.8 L1191.6,671.0 L1184.6,675.8 L1187.1,667.7 L1180.3,662.6 L1188.8,662.4 Z" fill="#0000ff" stroke="rgba(0,0,0,0.75)" stroke-width="2.4" stroke-linejoin="bevel"/>
<path d="M1317.6,431.9 L1320.4,439.9 L1328.9,440.1 L1322.2,445.2 L1324.6,453.3 L1317.6,448.5 L1310.7,453.3 L1313.1,445.2 L1306.4,440.1 L1314.9,439.9 Z" fill="#0000ff" stroke="rgba(0,0,0,0.75)" stroke-width="2.4" stroke-linejoin="bevel"/>
<path d="M1443.7,299.1 L1446.5,307.2 L1455.0,307.3 L1448.2,312.5 L1450.7,320.6 L1443.7,315.7 L1436.7,320.6 L1439.2,312.5 L1432.4,307.3 L1440.9,307.2 Z" fill="#0000ff" stroke="rgba(0,0,0,0.75)" stroke-width="2.4" stroke-linejoin="bevel"/>
<path d="M1569.8,503.6 L1572.6,511.7 L1581.1,511.8 L1574.3,517.0 L1576.8,525.1 L1569.8,520.2 L1562.8,525.1 L1565.3,517.0 L1558.5,511.8 L1567.0,511.7 Z" fill="#0000ff" stroke="rgba(0,0,0,0.75)" stroke-width="2.4" stroke-linejoin="bevel"/>
<path d="M1695.9,855.1 L1698.6,863.2 L1707.1,863.3 L1700.4,868.5 L1702.8,876.6 L1695.9,871.7 L1688.9,876.6 L1691.3,868.5 L1684.6,863.3 L1693.1,863.2 Z" fill="#0000ff" stroke="rgba(0,0,0,0.75)" stroke-width="2.4" stroke-linejoin="bevel"/>
<path d="M1821.9,1432.1 L1824.7,1440.1 L1833.2,1440.2 L1826.4,1445.4 L1828.9,1453.5 L1821.9,1448.6 L1815.0,1453.5 L1817.4,1445.4 L1810.7,1440.2 L1819.1,1440.1 Z" fill="#0000ff" stroke="rgba(0,0,0,0.75)" stroke-width="2.4" stroke-linejoin="bevel"/>
<path d="M1948.0,1432.1 L1950.8,1440.1 L1959.3,1440.2 L1952.5,1445.4 L1955.0,1453.5 L1948.0,1448.6 L1941.0,1453.5 L1943.5,1445.4 L1936.7,1440.2 L1945.2,1440.1 Z" fill="#0000ff" stroke="rgba(0,0,0,0.75)" stroke-width="2.4" stroke-linejoin="bevel"/>
<path d="M309.1,1101.5 L312.1,1110.4 L315.2,1119.1 L318.2,1127.5 L321.2,1135.6 L324.2,1143.5 L327.3,1151.1 L330.3,1158.4 L333.3,1165.5 L336.3,1172.4 L339.4,1179.0 L342.4,1185.4 L345.4,1191.5 L348.4,1197.4 L351.5,1203.1 L354.5,1208.6 L357.5,1213.8 L360.5,1218.8 L363.6,1223.6 L366.6,1228.2 L369.6,1232.6 L372.6,1236.8 L375.7,1240.8 L378.7,1244.6 L381.7,1248.2 L384.7,1251.6 L387.8,1254.9 L390.8,1257.9 L393.8,1260.8 L396.8,1263.5 L399.9,1266.0 L402.9,1268.4 L405.9,1270.6 L408.9,1272.7 L412.0,1274.5 L415.0,1276.3 L418.0,1277.9 L421.0,1279.3 L424.1,1280.6 L427.1,1281.8 L430.1,1282.8 L433.1,1283.7 L436.2,1284.5 L439.2,1285.1 L442.2,1285.6 L445.2,1286.1 L448.3,1286.4 L451.3,1286.5 L454.3,1286.6 L457.3,1286.6 L460.4,1286.5 L463.4,1286.3 L466.4,1286.0 L469.4,1285.6 L472.5,1285.1 L475.5,1284.5 L478.5,1283.9 L481.5,1283.2 L484.6,1282.4 L487.6,1281.6 L490.6,1280.7 L493.6,1279.7 L496.7,1278.7 L499.7,1277.6 L502.7,1276.4 L505.7,1275.2 L508.8,1274.0 L511.8,1272.7 L514.8,1271.3 L517.8,1269.9 L520.9,1268.4 L523.9,1266.8 L526.9,1265.2 L530.0,1263.6 L533.0,1261.9 L536.0,1260.1 L539.0,1258.3 L542.1,1256.4 L545.1,1254.5 L548.1,1252.5 L551.1,1250.5 L554.2,1248.4 L557.2,1246.3 L560.2,1244.1 L563.2,1241.8 L566.3,1239.6 L569.3,1237.2 L572.3,1234.8 L575.3,1232.4 L578.4,1229.9 L581.4,1227.4 L584.4,1224.8 L587.4,1222.2 L590.5,1219.5 L593.5,1216.8 L596.5,1214.0 L599.5,1211.2 L602.6,1208.3 L605.6,1205.4 L608.6,1202.5 L611.6,1199.5 L614.7,1196.4 L617.7,1193.4 L620.7,1190.2 L623.7,1187.1 L626.8,1183.9 L629.8,1180.6 L632.8,1177.3 L635.8,1174.0 L638.9,1170.6 L641.9,1167.2 L644.9,1163.7 L647.9,1160.2 L651.0,1156.7 L654.0,1153.1 L657.0,1149.5 L660.0,1145.8 L663.1,1142.1 L666.1,1138.4 L669.1,1134.6 L672.1,1130.8 L675.2,1127.0 L678.2,1123.1 L681.2,1119.2 L684.2,1115.2 L687.3,1111.2 L690.3,1107.2 L693.3,1103.2 L696.3,1099.1 L699.4,1095.0 L702.4,1090.9 L705.4,1086.7 L708.4,1082.5 L711.5,1078.4 L714.5,1074.2 L717.5,1069.9 L720.5,1065.7 L723.6,1061.5 L726.6,1057.3 L729.6,1053.1 L732.6,1048.8 L735.7,1044.6 L738.7,1040.4 L741.7,1036.2 L744.8,1032.1 L747.8,1027.9 L750.8,1023.8 L753.8,1019.6 L756.9,1015.5 L759.9,1011.5 L762.9,1007.4 L765.9,1003.4 L769.0,999.4 L772.0,995.5 L775.0,991.6 L778.0,987.8 L781.1,984.0 L784.1,980.2 L787.1,976.5 L790.1,972.8 L793.2,969.3 L796.2,965.7 L799.2,962.2 L802.2,958.8 L805.3,955.5 L808.3,952.2 L811.3,949.0 L814.3,945.9 L817.4,942.9 L820.4,939.9 L823.4,937.0 L826.4,934.2 L829.5,931.4 L832.5,928.7 L835.5,926.0 L838.5,923.4 L841.6,920.8 L844.6,918.3 L847.6,915.8 L850.6,913.3 L853.7,910.9 L856.7,908.5 L859.7,906.1 L862.7,903.7 L865.8,901.4 L868.8,899.1 L871.8,896.7 L874.8,894.4 L877.9,892.1 L880.9,889.8 L883.9,887.4 L886.9,885.1 L890.0,882.7 L893.0,880.3 L896.0,877.9 L899.0,875.5 L902.1,873.0 L905.1,870.5 L908.1,868.0 L911.1,865.4 L914.2,862.8 L917.2,860.1 L920.2,857.3 L923.2,854.6 L926.3,851.7 L929.3,848.8 L932.3,845.8 L935.3,842.7 L938.4,839.6 L941.4,836.4 L944.4,833.1 L947.4,829.7 L950.5,826.3 L953.5,822.8 L956.5,819.2 L959.6,815.6 L962.6,812.0 L965.6,808.3 L968.6,804.6 L971.7,800.9 L974.7,797.1 L977.7,793.4 L980.7,789.6 L983.8,785.8 L986.8,782.1 L989.8,778.4 L992.8,774.7 L995.9,771.0 L998.9,767.3 L1001.9,763.7 L1004.9,760.1 L1008.0,756.6 L1011.0,753.2 L1014.0,749.8 L1017.0,746.5 L1020.1,743.2 L1023.1,740.1 L1026.1,737.0 L1029.1,734.0 L1032.2,731.2 L1035.2,728.4 L1038.2,725.8 L1041.2,723.2 L1044.3,720.8 L1047.3,718.6 L1050.3,716.5 L1053.3,714.5 L1056.4,712.7 L1059.4,711.0 L1062.4,709.5 L1065.4,708.1 L1068.5,706.8 L1071.5,705.6 L1074.5,704.6 L1077.5,703.6 L1080.6,702.7 L1083.6,701.9 L1086.6,701.2 L1089.6,700.6 L1092.7,700.0 L1095.7,699.5 L1098.7,699.0 L1101.7,698.5 L1104.8,698.1 L1107.8,697.7 L1110.8,697.3 L1113.8,696.9 L1116.9,696.5 L1119.9,696.1 L1122.9,695.7 L1125.9,695.2 L1129.0,694.8 L1132.0,694.2 L1135.0,693.6 L1138.0,693.0 L1141.1,692.3 L1144.1,691.5 L1147.1,690.6 L1150.1,689.7 L1153.2,688.6 L1156.2,687.4 L1159.2,686.1 L1162.2,684.7 L1165.3,683.2 L1168.3,681.5 L1171.3,679.7 L1174.4,677.7 L1177.4,675.6 L1180.4,673.3 L1183.4,670.8 L1186.5,668.1 L1189.5,665.2 L1192.5,662.1 L1195.5,658.9 L1198.6,655.4 L1201.6,651.7 L1204.6,647.9 L1207.6,643.9 L1210.7,639.8 L1213.7,635.5 L1216.7,631.0 L1219.7,626.4 L1222.8,621.7 L1225.8,616.8 L1228.8,611.8 L1231.8,606.7 L1234.9,601.5 L1237.9,596.2 L1240.9,590.8 L1243.9,585.4 L1247.0,579.8 L1250.0,574.2 L1253.0,568.5 L1256.0,562.8 L1259.1,557.0 L1262.1,551.2 L1265.1,545.4 L1268.1,539.5 L1271.2,533.6 L1274.2,527.7 L1277.2,521.8 L1280.2,515.9 L1283.3,510.0 L1286.3,504.1 L1289.3,498.2 L1292.3,492.4 L1295.4,486.6 L1298.4,480.9 L1301.4,475.2 L1304.4,469.5 L1307.5,463.9 L1310.5,458.4 L1313.5,452.9 L1316.5,447.4 L1319.6,442.1 L1322.6,436.7 L1325.6,431.4 L1328.6,426.2 L1331.7,421.0 L1334.7,415.8 L1337.7,410.7 L1340.7,405.7 L1343.8,400.7 L1346.8,395.7 L1349.8,390.8 L1352.8,385.9 L1355.9,381.1 L1358.9,376.3 L1361.9,371.6 L1364.9,366.9 L1368.0,362.3 L1371.0,357.7 L1374.0,353.2 L1377.0,348.8 L1380.1,344.5 L1383.1,340.3 L1386.1,336.2 L1389.2,332.3 L1392.2,328.7 L1395.2,325.2 L1398.2,321.9 L1401.3,318.9 L1404.3,316.2 L1407.3,313.7 L1410.3,311.6 L1413.4,309.8 L1416.4,308.3 L1419.4,307.2 L1422.4,306.4 L1425.5,306.0 L1428.5,306.0 L1431.5,306.3 L1434.5,306.9 L1437.6,307.8 L1440.6,309.0 L1443.6,310.5 L1446.6,312.3 L1449.7,314.4 L1452.7,316.8 L1455.7,319.4 L1458.7,322.2 L1461.8,325.3 L1464.8,328.5 L1467.8,332.0 L1470.8,335.7 L1473.9,339.6 L1476.9,343.7 L1479.9,347.9 L1482.9,352.3 L1486.0,356.8 L1489.0,361.5 L1492.0,366.3 L1495.0,371.2 L1498.1,376.2 L1501.1,381.4 L1504.1,386.6 L1507.1,392.0 L1510.2,397.4 L1513.2,402.9 L1516.2,408.5 L1519.2,414.3 L1522.3,420.0 L1525.3,425.9 L1528.3,431.9 L1531.3,437.9 L1534.4,444.0 L1537.4,450.1 L1540.4,456.3 L1543.4,462.6 L1546.5,468.9 L1549.5,475.3 L1552.5,481.7 L1555.5,488.2 L1558.6,494.7 L1561.6,501.3 L1564.6,507.8 L1567.6,514.4 L1570.7,521.1 L1573.7,527.7 L1576.7,534.4 L1579.7,541.1 L1582.8,547.8 L1585.8,554.5 L1588.8,561.2 L1591.8,567.9 L1594.9,574.6 L1597.9,581.3 L1600.9,588.0 L1604.0,594.8 L1607.0,601.5 L1610.0,608.4 L1613.0,615.2 L1616.1,622.2 L1619.1,629.2 L1622.1,636.2 L1625.1,643.4 L1628.2,650.7 L1631.2,658.1 L1634.2,665.6 L1637.2,673.2 L1640.3,681.0 L1643.3,688.9 L1646.3,696.9 L1649.3,705.2 L1652.4,713.6 L1655.4,722.2 L1658.4,731.0 L1661.4,740.0 L1664.5,749.2 L1667.5,758.7 L1670.5,768.3 L1673.5,778.3 L1676.6,788.7 L1679.6,799.7 L1682.6,811.4 L1685.6,823.8 L1688.7,837.2 L1691.7,851.3 L1694.7,865.8 L1697.7,880.3 L1700.8,894.2 L1703.8,907.3 L1706.8,919.9 L1709.8,932.6 L1712.9,945.8 L1715.9,959.7 L1718.9,974.0 L1721.9,988.4 L1725.0,1002.4 L1728.0,1015.8 L1731.0,1028.3 L1734.0,1039.4 L1737.1,1050.4 L1740.1,1062.5 L1743.1,1075.7 L1746.1,1089.8 L1749.2,1104.6 L1752.2,1120.0 L1755.2,1135.7 L1758.2,1151.6 L1761.3,1167.6 L1764.3,1183.4 L1767.3,1198.9 L1770.3,1214.1 L1773.4,1229.0 L1776.4,1243.8 L1779.4,1258.5 L1782.4,1273.2 L1785.5,1288.1 L1788.5,1303.1 L1791.5,1318.3 L1794.5,1333.6 L1797.6,1348.8 L1800.6,1363.8 L1803.6,1378.3 L1806.6,1392.1 L1809.7,1405.2 L1812.7,1417.3 L1815.7,1428.2 L1818.8,1437.9 L1824.0,1460.6" fill="none" stroke="#0000ff" stroke-width="4.0" stroke-linecap="square" stroke-linejoin="round"/>
</g>
<g stroke="#333" stroke-width="3.4" fill="none">
<path d="M183.0,1443.9 v-15.8 M183.0,82.4 v15.8"/>
<path d="M435.1,1443.9 v-15.8 M435.1,82.4 v15.8"/>
<path d="M687.3,1443.9 v-15.8 M687.3,82.4 v15.8"/>
<path d="M939.4,1443.9 v-15.8 M939.4,82.4 v15.8"/>
<path d="M1191.6,1443.9 v-15.8 M1191.6,82.4 v15.8"/>
<path d="M1443.7,1443.9 v-15.8 M1443.7,82.4 v15.8"/>
<path d="M1695.9,1443.9 v-15.8 M1695.9,82.4 v15.8"/>
<path d="M1948.0,1443.9 v-15.8 M1948.0,82.4 v15.8"/>
<path d="M183.0,1443.9 h15.8 M1948.0,1443.9 h-15.8"/>
<path d="M183.0,1217.0 h15.8 M1948.0,1217.0 h-15.8"/>
<path d="M183.0,990.1 h15.8 M1948.0,990.1 h-15.8"/>
<path d="M183.0,763.1 h15.8 M1948.0,763.1 h-15.8"/>
<path d="M183.0,536.2 h15.8 M1948.0,536.2 h-15.8"/>
<path d="M183.0,309.3 h15.8 M1948.0,309.3 h-15.8"/>
<path d="M183.0,82.4 h15.8 M1948.0,82.4 h-15.8"/>
</g>
<rect x="183.0" y="82.4" width="1765.0" height="1361.5" fill="none" stroke="#000" stroke-width="4"/>
<text transform="translate(180.4,1499.8) scale(0.988,1.07)" font-size="47.4" text-anchor="middle">300</text>
<text transform="translate(436.0,1499.8) scale(0.988,1.07)" font-size="47.4" text-anchor="middle">400</text>
<text transform="translate(684.0,1499.8) scale(0.988,1.07)" font-size="47.4" text-anchor="middle">500</text>
<text transform="translate(937.3,1499.8) scale(0.988,1.07)" font-size="47.4" text-anchor="middle">600</text>
<text transform="translate(1190.2,1499.8) scale(0.988,1.07)" font-size="47.4" text-anchor="middle">700</text>
<text transform="translate(1440.8,1499.8) scale(0.988,1.07)" font-size="47.4" text-anchor="middle">800</text>
<text transform="translate(1695.9,1499.8) scale(0.988,1.07)" font-size="47.4" text-anchor="middle">900</text>
<text transform="translate(1945.5,1499.8) scale(0.988,1.07)" font-size="47.4" text-anchor="middle">1000</text>
<text transform="translate(166.0,1459.5) scale(0.988,1.07)" font-size="47.4" text-anchor="end">0.0</text>
<text transform="translate(169.0,1232.0) scale(0.988,1.07)" font-size="47.4" text-anchor="end">0.2</text>
<text transform="translate(166.0,1004.5) scale(0.988,1.07)" font-size="47.4" text-anchor="end">0.4</text>
<text transform="translate(166.0,778.8) scale(0.988,1.07)" font-size="47.4" text-anchor="end">0.6</text>
<text transform="translate(166.5,551.8) scale(0.988,1.07)" font-size="47.4" text-anchor="end">0.8</text>
<text transform="translate(169.3,324.4) scale(0.988,1.07)" font-size="47.4" text-anchor="end">1.0</text>
<text transform="translate(169.6,99.3) scale(0.988,1.07)" font-size="47.4" text-anchor="end">1.2</text>
<text transform="translate(1065.0,64.0) scale(1.0,0.955)" font-size="57.3" text-anchor="middle">Sensor spectrum test</text>
<text transform="translate(1065.1,1570.3) scale(1.006,1.07)" font-size="47.4" text-anchor="middle">Wavelength (nm)</text>
<text transform="translate(62.0,765.5) rotate(-90) scale(1.008,1.07)" font-size="47.4" text-anchor="middle">Counts (Norm)</text>
<rect x="211.2" y="110.6" width="518.2" height="430.5" fill="#fff" stroke="#000" stroke-width="4"/>
<circle cx="251.2" cy="156.9" r="11.15" fill="#00c4c4" stroke="rgba(0,0,0,0.75)" stroke-width="2.4"/>
<path d="M251.2,250.3 L262.3,228.0 L240.0,228.0 Z" fill="#d600cc" stroke="rgba(0,0,0,0.75)" stroke-width="2.4"/>
<rect x="240.0" y="311.0" width="22.3" height="22.3" fill="#c8c800" stroke="rgba(0,0,0,0.75)" stroke-width="2.4"/>
<path d="M251.2,475.4 L254.0,483.5 L262.5,483.6 L255.7,488.8 L258.2,496.9 L251.2,492.0 L244.2,496.9 L246.7,488.8 L239.9,483.6 L248.4,483.5 Z" fill="#0000ff" stroke="rgba(0,0,0,0.75)" stroke-width="2.4" stroke-linejoin="bevel"/>
<circle cx="331.0" cy="156.9" r="11.15" fill="#00c4c4" stroke="rgba(0,0,0,0.75)" stroke-width="2.4"/>
<path d="M331.0,250.3 L342.1,228.0 L319.9,228.0 Z" fill="#d600cc" stroke="rgba(0,0,0,0.75)" stroke-width="2.4"/>
<rect x="319.9" y="311.0" width="22.3" height="22.3" fill="#c8c800" stroke="rgba(0,0,0,0.75)" stroke-width="2.4"/>
<path d="M331.0,475.4 L333.8,483.5 L342.3,483.6 L335.5,488.8 L338.0,496.9 L331.0,492.0 L324.0,496.9 L326.5,488.8 L319.7,483.6 L328.2,483.5 Z" fill="#0000ff" stroke="rgba(0,0,0,0.75)" stroke-width="2.4" stroke-linejoin="bevel"/>
<rect x="243.4" y="396.6" width="92.1" height="12.4" fill="#ff0000"/>
<text transform="translate(391.5,178.0) scale(1.0,0.955)" font-size="57.3" text-anchor="start">Sensor 1</text>
<text transform="translate(391.5,260.2) scale(1.0,0.955)" font-size="57.3" text-anchor="start">Sensor 2</text>
<text transform="translate(391.5,342.4) scale(1.0,0.955)" font-size="57.3" text-anchor="start">Sensor 3</text>
<text transform="translate(391.5,424.2) scale(1.0,0.955)" font-size="57.3" text-anchor="start">Avg</text>
<text transform="translate(391.5,506.8) scale(1.0,0.955)" font-size="57.3" text-anchor="start">No capsule</text>
</svg>
</body></html>
